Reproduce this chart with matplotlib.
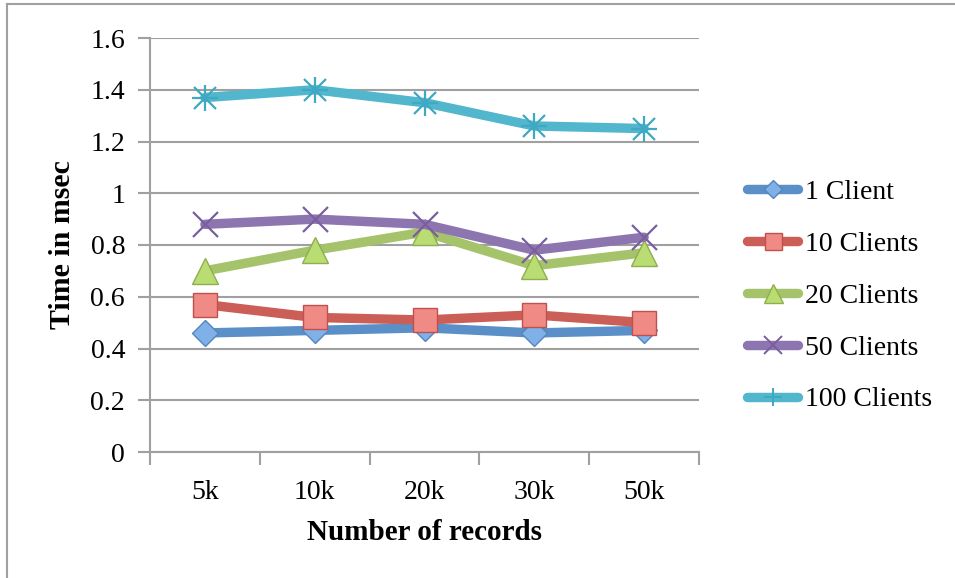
import matplotlib
matplotlib.use("Agg")
import matplotlib.pyplot as plt
from matplotlib.lines import Line2D
import numpy as np

# Data
records = ["5k", "10k", "20k", "30k", "50k"]
series_names = ["1 Client", "10 Clients", "20 Clients", "50 Clients", "100 Clients"]
clients_1 = [0.46, 0.47, 0.48, 0.46, 0.47]
clients_10 = [0.57, 0.52, 0.51, 0.53, 0.50]
clients_20 = [0.70, 0.78, 0.85, 0.72, 0.77]
clients_50 = [0.88, 0.90, 0.88, 0.78, 0.83]
clients_100 = [1.37, 1.40, 1.35, 1.26, 1.25]
y_ticks = [0, 0.2, 0.4, 0.6, 0.8, 1, 1.2, 1.4, 1.6]

plt.rcParams["font.family"] = ["Liberation Serif", "DejaVu Serif"]

fig = plt.figure(figsize=(9.55, 5.78), dpi=100)
ax = fig.add_axes([150 / 955, 1 - 452 / 578, 549 / 955, 414 / 578])

# outer frame (top and left edges)
fig.add_artist(Line2D([7 / 955, 7 / 955], [0, 1 - 4 / 578], transform=fig.transFigure,
                      color="#a0a0a0", lw=1.5))
fig.add_artist(Line2D([7 / 955, 1], [1 - 4 / 578, 1 - 4 / 578], transform=fig.transFigure,
                      color="#a0a0a0", lw=1.5))

x = np.arange(len(records))
# (values, line colour, marker, face colour, edge colour, marker size)
styles = [
    (clients_1, "#5b8fc7", "D", "#7fb0e8", "#5585bd", 13),
    (clients_10, "#cc5e58", "s", "#f08a85", "#c0504d", 17),
    (clients_20, "#a5c36a", "^", "#b9dd72", "#8fae4f", 19),
    (clients_50, "#8d75b0", "x", "#8d75b0", "#7a5e9e", 18),
    (clients_100, "#52b6cd", "*", "#52b6cd", "#3fa8c2", 19),
]
LW = 6.8
for (vals, lc, mk, mfc, mec, ms), name in zip(styles, series_names):
    if mk == "x":
        ax.plot(x, vals, color=lc, lw=LW, marker="x", ms=ms, mew=1.6, mec=mec,
                solid_capstyle="round", zorder=3)
    elif mk == "*":
        ax.plot(x, vals, color=lc, lw=LW, solid_capstyle="round", zorder=3)
        ax.plot(x, vals, ls="none", marker="+", ms=ms, mew=1.6, mec=mec, zorder=4)
        ax.plot(x, vals, ls="none", marker="x", ms=ms * 0.85, mew=1.6, mec=mec, zorder=4)
    else:
        ax.plot(x, vals, color=lc, lw=LW, marker=mk, ms=ms, mfc=mfc, mec=mec, mew=1.0,
                solid_capstyle="round", zorder=3)

ax.set_xlim(-0.5, len(records) - 0.5)
ax.set_ylim(0, 1.6)
ax.set_yticks(y_ticks)
ax.set_yticklabels([f"{t:g}" for t in y_ticks], fontsize=20)
ax.set_xticks(np.arange(-0.5, len(records), 1.0))
ax.set_xticklabels([])
ax.set_xticks(x, minor=True)
ax.set_xticklabels(records, minor=True, fontsize=20)
ax.tick_params(axis="x", which="minor", length=0, pad=20)
ax.tick_params(axis="x", which="major", length=9, width=1.5, color="#a0a0a0", direction="out")
ax.tick_params(axis="y", length=9, width=1.5, color="#a0a0a0", direction="out", pad=9)

ax.grid(axis="y", color="#a0a0a0", lw=1.5, zorder=0)
ax.set_axisbelow(True)
for s in ("top", "right"):
    ax.spines[s].set_visible(False)
for s in ("left", "bottom"):
    ax.spines[s].set_color("#a0a0a0")
    ax.spines[s].set_linewidth(1.5)

ax.set_ylabel("Time in msec", fontsize=21.5, fontweight="bold", labelpad=10)
ax.set_xlabel("Number of records", fontsize=21, fontweight="bold", labelpad=10)

handles = []
for (vals, lc, mk, mfc, mec, ms), name in zip(styles, series_names):
    if mk == "*":
        h = Line2D([], [], color=lc, lw=LW, marker="+", ms=ms * 0.7, mec=mec, mew=1.4,
                   solid_capstyle="round")
    elif mk == "x":
        h = Line2D([], [], color=lc, lw=LW, marker="x", ms=ms * 0.7, mec=mec, mew=1.4,
                   solid_capstyle="round")
    else:
        h = Line2D([], [], color=lc, lw=LW, marker=mk, ms=ms * 0.72, mfc=mfc, mec=mec, mew=1.0,
                   solid_capstyle="round")
    handles.append(h)
fig.legend(handles, series_names, loc="center left", bbox_to_anchor=(747 / 955, 1 - 296 / 578),
           frameon=False, fontsize=20, handlelength=1.85, handletextpad=0.25, labelspacing=0.95,
           borderpad=0, borderaxespad=0)

fig.savefig("out.png", dpi=100)
